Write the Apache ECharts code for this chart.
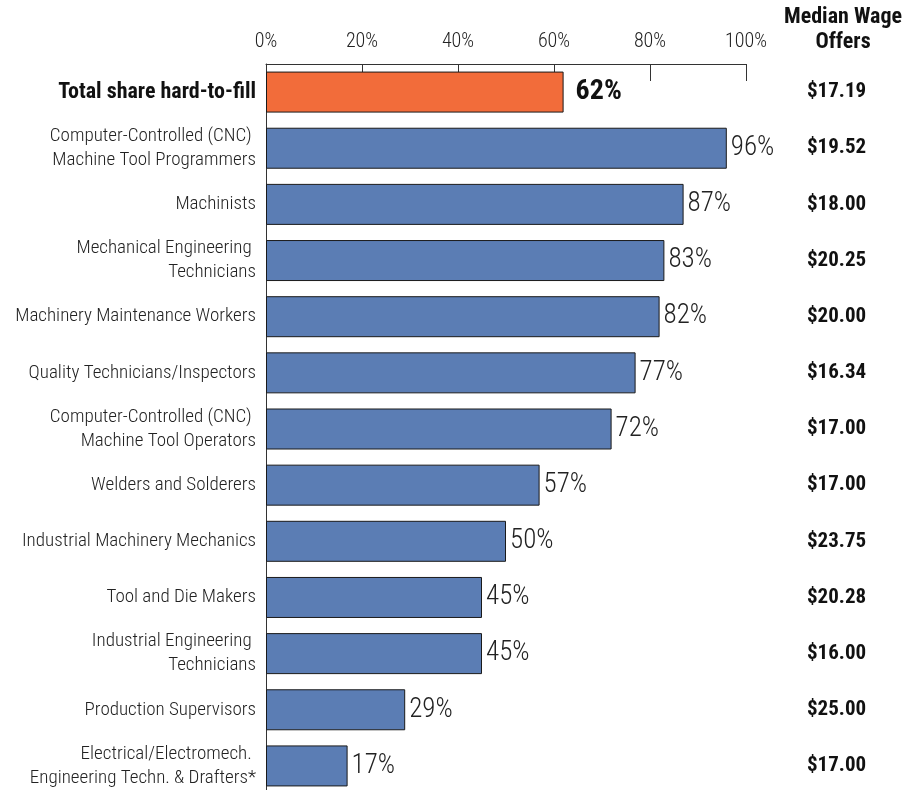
<!DOCTYPE html>
<html>
<head>
<meta charset="utf-8">
<script src="https://cdn.jsdelivr.net/npm/echarts@6/dist/echarts.min.js"></script>
<style>
  html, body { margin: 0; padding: 0; background: #fff; }
  #chart { width: 907px; height: 790px; }
</style>
</head>
<body>
<div id="chart"></div>
<script>
// Occupations, share of openings reported hard to fill, and median wage offers
const categories = [
  'Total share hard-to-fill',
  'Computer-Controlled (CNC) \nMachine Tool Programmers',
  'Machinists',
  'Mechanical Engineering \nTechnicians',
  'Machinery Maintenance Workers',
  'Quality Technicians/Inspectors',
  'Computer-Controlled (CNC) \nMachine Tool Operators',
  'Welders and Solderers',
  'Industrial Machinery Mechanics',
  'Tool and Die Makers',
  'Industrial Engineering \nTechnicians',
  'Production Supervisors',
  'Electrical/Electromech. \nEngineering Techn. & Drafters*'
];
const hardToFillShare = [62, 96, 87, 83, 82, 77, 72, 57, 50, 45, 45, 29, 17];
const medianWages = ['$17.19', '$19.52', '$18.00', '$20.25', '$20.00', '$16.34', '$17.00',
                     '$17.00', '$23.75', '$20.28', '$16.00', '$25.00', '$17.00'];
const axisTicks = [0, 20, 40, 60, 80, 100];

const FONT = '"Roboto Condensed", "DejaVu Sans Condensed", sans-serif';
const ORANGE = '#F26C3A';
const BLUE = '#5B7DB4';

const chart = echarts.init(document.getElementById('chart'), null, { renderer: 'canvas' });

const option = {
  animation: false,
  backgroundColor: '#ffffff',
  textStyle: { fontFamily: FONT },
  title: {
    text: 'Median Wage\nOffers',
    left: 838,
    top: 0,
    textAlign: 'center',
    textStyle: {
      fontFamily: FONT, fontWeight: 'bold', fontSize: 22, lineHeight: 25, color: '#111'
    }
  },
  grid: { left: 266, right: 161, top: 64, height: 730, outerBoundsMode: 'none', containLabel: false },
  xAxis: {
    type: 'value',
    position: 'top',
    min: axisTicks[0],
    max: axisTicks[axisTicks.length - 1],
    interval: 20,
    axisLine: { show: true, lineStyle: { color: '#333', width: 1 } },
    axisTick: { show: true, inside: true, length: 17, lineStyle: { color: '#333', width: 1 } },
    splitLine: { show: false },
    axisLabel: {
      formatter: '{value}%',
      margin: 12,
      fontFamily: FONT,
      fontWeight: 300,
      fontSize: 20,
      color: '#222'
    }
  },
  yAxis: [
    {
      type: 'category',
      inverse: true,
      data: categories.map((c, i) => i === 0
        ? { value: c, textStyle: { fontWeight: 'bold', fontSize: 22, color: '#111' } }
        : c),
      axisLine: { show: true, lineStyle: { color: '#333', width: 1 } },
      axisTick: { show: false },
      axisLabel: {
        margin: 10,
        fontFamily: FONT,
        fontWeight: 300,
        fontSize: 19,
        lineHeight: 24,
        color: '#222'
      }
    },
    {
      type: 'category',
      inverse: true,
      position: 'right',
      data: medianWages,
      axisLine: { show: false },
      axisTick: { show: false },
      axisLabel: {
        margin: 61,
        fontFamily: FONT,
        fontWeight: 'bold',
        fontSize: 21,
        color: '#111'
      }
    }
  ],
  series: [
    {
      type: 'bar',
      yAxisIndex: 0,
      barWidth: 41,
      data: hardToFillShare.map((v, i) => i === 0
        ? {
            value: v,
            itemStyle: { color: ORANGE },
            label: { fontWeight: 'bold', fontSize: 28, distance: 12, color: '#111' }
          }
        : v),
      itemStyle: { color: BLUE, borderColor: '#1a1a1a', borderWidth: 1 },
      label: {
        show: true,
        position: 'right',
        distance: 4,
        formatter: '{c}%',
        fontFamily: FONT,
        fontWeight: 300,
        fontSize: 27,
        color: '#222'
      }
    }
  ]
};

chart.setOption(option);
</script>
</body>
</html>
